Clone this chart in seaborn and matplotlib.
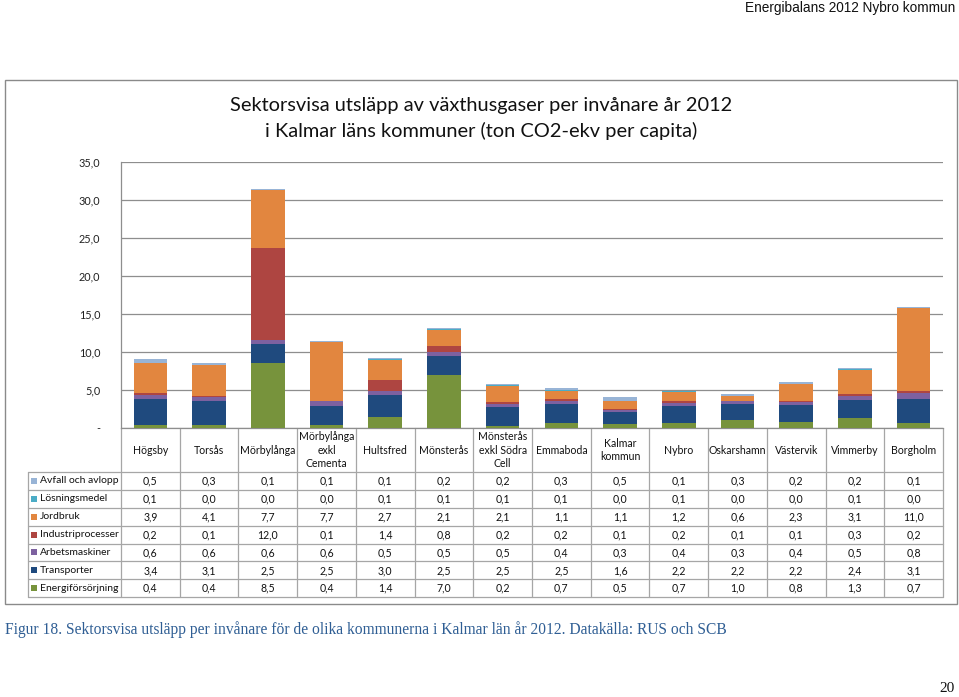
import numpy as np
import pandas as pd
import matplotlib
matplotlib.use("Agg")
import matplotlib.pyplot as plt
import seaborn as sns
from matplotlib.patches import Rectangle

# ===================== data =====================
kommuner = ["Högsby", "Torsås", "Mörbylånga", "Mörbylånga\nexkl\nCementa", "Hultsfred",
            "Mönsterås", "Mönsterås\nexkl Södra\nCell", "Emmaboda", "Kalmar\nkommun",
            "Nybro", "Oskarshamn", "Västervik", "Vimmerby", "Borgholm"]

avfall = [0.5, 0.3, 0.1, 0.1, 0.1, 0.2, 0.2, 0.3, 0.5, 0.1, 0.3, 0.2, 0.2, 0.1]
losningsmedel = [0.1, 0.0, 0.0, 0.0, 0.1, 0.1, 0.1, 0.1, 0.0, 0.1, 0.0, 0.0, 0.1, 0.0]
jordbruk = [3.9, 4.1, 7.7, 7.7, 2.7, 2.1, 2.1, 1.1, 1.1, 1.2, 0.6, 2.3, 3.1, 11.0]
industri = [0.2, 0.1, 12.0, 0.1, 1.4, 0.8, 0.2, 0.2, 0.1, 0.2, 0.1, 0.1, 0.3, 0.2]
arbetsmaskiner = [0.6, 0.6, 0.6, 0.6, 0.5, 0.5, 0.5, 0.4, 0.3, 0.4, 0.3, 0.4, 0.5, 0.8]
transporter = [3.4, 3.1, 2.5, 2.5, 3.0, 2.5, 2.5, 2.5, 1.6, 2.2, 2.2, 2.2, 2.4, 3.1]
energi = [0.4, 0.4, 8.5, 0.4, 1.4, 7.0, 0.2, 0.7, 0.5, 0.7, 1.0, 0.8, 1.3, 0.7]

# table order (top -> bottom); bars are stacked in reverse
sektorer = ["Avfall och avlopp", "Lösningsmedel", "Jordbruk", "Industriprocesser",
            "Arbetsmaskiner", "Transporter", "Energiförsörjning"]
serier = [avfall, losningsmedel, jordbruk, industri, arbetsmaskiner, transporter, energi]
farger = ["#98B4D6", "#4BACC6", "#E2863F", "#AE4541", "#7D61A0", "#1F4A7E", "#77933C"]

y_ticks = [0, 5, 10, 15, 20, 25, 30, 35]

# ===================== style =====================
sns.set_style("white")
plt.rcParams['font.family'] = ['Lato', 'DejaVu Sans']

W, H = 959, 697
fig = plt.figure(figsize=(W / 100, H / 100), dpi=100)

# page layer in pixel coordinates
page = fig.add_axes([0, 0, 1, 1])
page.set_xlim(0, W)
page.set_ylim(H, 0)
page.axis("off")

# plot area (pixels)
x0, x1 = 121, 943
y_top, y_base = 161.7, 428
ax = fig.add_axes([x0 / W, 1 - y_base / H, (x1 - x0) / W, (y_base - y_top) / H])
ax.set_zorder(2)
ax.patch.set_alpha(0)

df = pd.DataFrame({s: v for s, v in zip(sektorer, serier)})
df["kommun"] = kommuner

bottom = np.zeros(len(kommuner))
for namn, farg in zip(sektorer[::-1], farger[::-1]):
    sns.barplot(data=df, x="kommun", y=namn, order=kommuner, color=farg,
                bottom=bottom, width=0.57, saturation=1, errorbar=None,
                linewidth=0, ax=ax, zorder=3)
    bottom = bottom + df[namn].values

ax.set_ylim(0, 35)
ax.set_xlim(-0.5, len(kommuner) - 0.5)
ax.set_xlabel("")
ax.set_ylabel("")
ax.set_xticks([])
ax.set_yticks(y_ticks)
ax.set_yticklabels(["-"] + [f"{v:.1f}".replace(".", ",") for v in y_ticks[1:]])
ax.yaxis.grid(True, color="#8E8E8E", lw=0.9, zorder=0)
ax.tick_params(axis="y", length=3, color="#8E8E8E", pad=12, labelsize=7.8, labelcolor="#222222")
for side in ["top", "right"]:
    ax.spines[side].set_visible(False)
for side in ["left", "bottom"]:
    ax.spines[side].set_color("#8E8E8E")
    ax.spines[side].set_linewidth(0.9)

# title
fig.text(481 / W, 1 - 105 / H, "Sektorsvisa utsläpp av växthusgaser per invånare år 2012",
         ha="center", va="center", fontsize=14.4, color="#111111")
fig.text(481 / W, 1 - 131 / H, "i Kalmar läns kommuner (ton CO2-ekv per capita)",
         ha="center", va="center", fontsize=14.4, color="#111111")

# chart frame
page.add_patch(Rectangle((5, 80), 952, 524, fill=False, ec="#8A8A8A", lw=1.0))

# ===================== data table =====================
col_w = (x1 - x0) / len(kommuner)
row_top, row_h = 471.7, 17.95
leg_left = 28
line_c = "#A6A6A6"

for i in range(len(kommuner) + 1):
    xx = x0 + i * col_w
    page.plot([xx, xx], [y_base, row_top + 7 * row_h], color=line_c, lw=0.9)
for j in range(8):
    yy = row_top + j * row_h
    page.plot([leg_left, x1], [yy, yy], color=line_c, lw=0.9)
page.plot([leg_left, leg_left], [row_top, row_top + 7 * row_h], color=line_c, lw=0.9)

for i, k in enumerate(kommuner):
    cx = x0 + (i + 0.5) * col_w
    page.text(cx, 450, k, ha="center", va="center", fontsize=7.6,
              linespacing=1.3, color="#111111")

for j, (namn, vals, farg) in enumerate(zip(sektorer, serier, farger)):
    cy = row_top + (j + 0.5) * row_h
    page.add_patch(Rectangle((31, cy - 3), 6, 6, color=farg, lw=0))
    page.text(40, cy, namn, ha="left", va="center", fontsize=7.5, color="#111111")
    for i, v in enumerate(vals):
        cx = x0 + (i + 0.5) * col_w
        page.text(cx, cy, f"{v:.1f}".replace(".", ","), ha="center", va="center",
                  fontsize=7.6, color="#111111")

# ===================== page text =====================
page.text(955, 8, "Energibalans 2012 Nybro kommun", ha="right", va="center",
          fontsize=9.8, family="Liberation Sans", color="#111111")
page.text(5, 630, "Figur 18. Sektorsvisa utsläpp per invånare för de olika kommunerna i Kalmar län år 2012. "
          "Datakälla: RUS och SCB", ha="left", va="center", fontsize=11.2,
          family="Liberation Serif", color="#2F5E94")
page.text(955, 689, "20", ha="right", va="center", fontsize=11,
          family="Liberation Serif", color="#111111")

fig.savefig("out.png", dpi=100)
